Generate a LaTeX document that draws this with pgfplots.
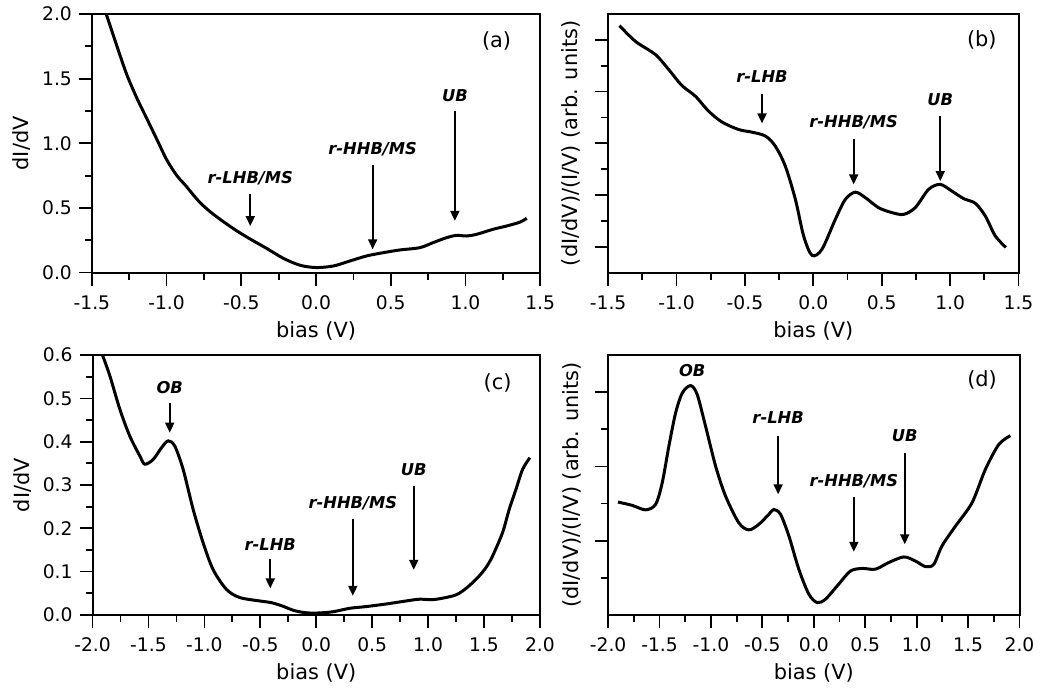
\documentclass[border=0pt]{standalone}
\usepackage{fontspec}
\setmainfont{DejaVu Sans}
\usepackage{pgfplots}
\pgfplotsset{compat=1.18}
\usetikzlibrary{arrows.meta}

% one pixel of the reference = 0.5bp
\pgfplotsset{
  panel/.style={
    scale only axis, anchor=south west,
    axis line style={line width=1bp},
    tick pos=left, tick align=outside,
    major tick length=6.5bp, minor tick length=3.5bp,
    every tick/.style={black, line width=0.9bp},
    tick label style={font=\fontsize{9.4}{11}\selectfont},
    xticklabel style={yshift=-1.5bp},
    label style={font=\fontsize{10.5}{12}\selectfont},
    xlabel={bias (V)},
    xlabel style={at={(axis description cs:0.5,0)}, anchor=center, yshift=-29bp},
    ylabel style={rotate=0, anchor=center},
  },
  curve/.style={black, line width=1.5bp, smooth, no marks},
}
\tikzset{
  ann/.style={font=\fontsize{8.2}{9}\selectfont\bfseries\itshape},
  arr/.style={-{Triangle[length=5bp,width=4.5bp]}, line width=0.9bp},
  tag/.style={font=\fontsize{10.5}{12}\selectfont},
}

\begin{document}
\begin{tikzpicture}
\path (0,0) rectangle (520.5bp,-344bp);

% (a)
\begin{axis}[panel, at={(46bp,-136.5bp)}, width=224.5bp, height=129.5bp,
  xmin=-1.5, xmax=1.5, ymin=0, ymax=2,
  xtick={-1.5,-1,-0.5,0,0.5,1,1.5}, xticklabels={-1.5,-1.0,-0.5,0.0,0.5,1.0,1.5},
  ytick={0,0.5,1,1.5,2}, yticklabels={0.0,0.5,1.0,1.5,2.0},
  minor x tick num=1, minor y tick num=1,
  ylabel={dI/dV}, ylabel style={at={(axis description cs:-0.156,0.5)}}]
\addplot[curve] coordinates {
 (-1.404,2.0) (-1.332,1.75) (-1.266,1.53) (-1.199,1.35) (-1.132,1.19)
 (-1.065,1.03) (-0.998,0.87) (-0.931,0.75) (-0.87,0.67) (-0.842,0.63) (-0.775,0.54)
 (-0.686,0.45) (-0.553,0.34) (-0.441,0.26) (-0.33,0.187) (-0.218,0.11)
 (-0.107,0.057) (0.0,0.039) (0.116,0.051) (0.227,0.09) (0.339,0.129)
 (0.45,0.154) (0.561,0.175) (0.695,0.193) (0.784,0.232) (0.873,0.27)
 (0.94,0.288) (1.007,0.283) (1.074,0.296) (1.185,0.335) (1.274,0.36)
 (1.364,0.39) (1.41,0.42)
};
\node[ann] at (axis cs:-0.44,0.728) {r-LHB/MS};
\draw[arr] (axis cs:-0.44,0.605) -- (axis cs:-0.44,0.36);
\node[ann] at (axis cs:0.379,0.952) {r-HHB/MS};
\draw[arr] (axis cs:0.379,0.829) -- (axis cs:0.379,0.18);
\node[ann] at (axis cs:0.929,1.372) {UB};
\draw[arr] (axis cs:0.929,1.248) -- (axis cs:0.929,0.4);
\node[tag] at (axis cs:1.208,1.79) {(a)};
\end{axis}

% (b)
\begin{axis}[panel, at={(304.5bp,-136.5bp)}, width=205.5bp, height=129.5bp,
  xmin=-1.5, xmax=1.5, ymin=0, ymax=10,
  xtick={-1.5,-1,-0.5,0,0.5,1,1.5}, xticklabels={-1.5,-1.0,-0.5,0.0,0.5,1.0,1.5},
  minor x tick num=1,
  ytick={1,3,5,7,9}, yticklabels={}, minor ytick={2,4,6,8},
  ylabel={(dI/dV)/(I/V) (arb. units)}, ylabel style={at={(axis description cs:-0.09,0.5)}}]
\addplot[curve] coordinates {
 (-1.417,9.55) (-1.30,8.94) (-1.154,8.43) (-1.057,7.85) (-0.96,7.23)
 (-0.862,6.82) (-0.765,6.24) (-0.667,5.82) (-0.545,5.53) (-0.448,5.43)
 (-0.35,5.28) (-0.278,4.89) (-0.205,4.12) (-0.131,2.83) (-0.071,1.42)
 (-0.01,0.67) (0.063,0.90) (0.161,2.06) (0.234,2.83) (0.307,3.11)
 (0.38,2.90) (0.477,2.51) (0.575,2.32) (0.66,2.25) (0.745,2.51)
 (0.843,3.22) (0.928,3.41) (1.013,3.15) (1.099,2.86) (1.184,2.68)
 (1.257,2.19) (1.33,1.42) (1.408,0.97)
};
\node[ann] at (axis cs:-0.375,7.59) {r-LHB};
\draw[arr] (axis cs:-0.375,6.91) -- (axis cs:-0.375,5.77);
\node[ann] at (axis cs:0.295,5.82) {r-HHB/MS};
\draw[arr] (axis cs:0.295,5.15) -- (axis cs:0.295,3.41);
\node[ann] at (axis cs:0.928,6.69) {UB};
\draw[arr] (axis cs:0.928,6.05) -- (axis cs:0.928,3.54);
\node[tag] at (axis cs:1.232,9.0) {(b)};
\end{axis}

% (c)
\begin{axis}[panel, at={(46.35bp,-307.85bp)}, width=224bp, height=130bp,
  xmin=-2, xmax=2, ymin=0, ymax=0.6,
  xtick={-2,-1.5,-1,-0.5,0,0.5,1,1.5,2},
  xticklabels={-2.0,-1.5,-1.0,-0.5,0.0,0.5,1.0,1.5,2.0},
  ytick={0,0.1,0.2,0.3,0.4,0.5,0.6}, yticklabels={0.0,0.1,0.2,0.3,0.4,0.5,0.6},
  minor x tick num=1, minor y tick num=1,
  ylabel={dI/dV}, ylabel style={at={(axis description cs:-0.156,0.5)}}]
\addplot[curve] coordinates {
 (-1.911,0.6) (-1.845,0.552) (-1.756,0.475) (-1.667,0.413) (-1.577,0.367)
 (-1.533,0.348) (-1.458,0.359) (-1.384,0.386) (-1.324,0.402) (-1.265,0.39)
 (-1.19,0.336) (-1.101,0.244) (-1.012,0.167) (-0.923,0.105) (-0.804,0.059)
 (-0.685,0.04) (-0.506,0.032) (-0.4,0.028) (-0.3,0.02) (-0.2,0.01) (-0.1,0.005) (0,0.004)
 (0.149,0.007) (0.298,0.015) (0.446,0.019) (0.625,0.025) (0.804,0.032)
 (0.923,0.036) (1.042,0.035) (1.161,0.04) (1.25,0.046) (1.309,0.055)
 (1.38,0.07) (1.458,0.09) (1.52,0.11) (1.577,0.136) (1.666,0.19)
 (1.726,0.244) (1.786,0.29) (1.845,0.336) (1.91,0.363)
};
\node[ann] at (axis cs:-1.31,0.526) {OB};
\draw[arr] (axis cs:-1.31,0.49) -- (axis cs:-1.31,0.421);
\node[ann] at (axis cs:-0.411,0.163) {r-LHB};
\draw[arr] (axis cs:-0.411,0.128) -- (axis cs:-0.411,0.061);
\node[ann] at (axis cs:0.327,0.259) {r-HHB/MS};
\draw[arr] (axis cs:0.327,0.222) -- (axis cs:0.327,0.044);
\node[ann] at (axis cs:0.872,0.336) {UB};
\draw[arr] (axis cs:0.872,0.298) -- (axis cs:0.872,0.104);
\node[tag] at (axis cs:1.622,0.536) {(c)};
\end{axis}

% (d)
\begin{axis}[panel, at={(304.5bp,-307.85bp)}, width=206bp, height=130bp,
  xmin=-2, xmax=2, ymin=0, ymax=7,
  xtick={-2,-1.5,-1,-0.5,0,0.5,1,1.5,2},
  xticklabels={-2.0,-1.5,-1.0,-0.5,0.0,0.5,1.0,1.5,2.0},
  minor x tick num=1,
  ytick={2,4,6}, yticklabels={}, minor ytick={1,3,5},
  ylabel={(dI/dV)/(I/V) (arb. units)}, ylabel style={at={(axis description cs:-0.087,0.5)}}]
\addplot[curve] coordinates {
 (-1.904,3.04) (-1.765,2.95) (-1.636,2.83) (-1.538,2.98) (-1.474,3.56)
 (-1.409,4.55) (-1.344,5.44) (-1.279,5.98) (-1.198,6.18) (-1.134,5.94)
 (-1.053,5.09) (-0.955,4.01) (-0.858,3.20) (-0.729,2.48) (-0.632,2.29)
 (-0.534,2.44) (-0.437,2.71) (-0.389,2.84) (-0.324,2.71) (-0.243,2.13)
 (-0.146,1.23) (-0.049,0.56) (0.032,0.33) (0.113,0.42) (0.243,0.83)
 (0.356,1.18) (0.47,1.25) (0.599,1.23) (0.729,1.41) (0.875,1.56)
 (0.988,1.45) (1.085,1.30) (1.166,1.36) (1.247,1.86) (1.377,2.39)
 (1.538,3.02) (1.668,3.92) (1.798,4.59) (1.911,4.83)
};
\node[ann] at (axis cs:-1.182,6.59) {OB};
\node[ann] at (axis cs:-0.347,5.31) {r-LHB};
\draw[arr] (axis cs:-0.347,4.82) -- (axis cs:-0.347,3.25);
\node[ann] at (axis cs:0.389,3.61) {r-HHB/MS};
\draw[arr] (axis cs:0.389,3.17) -- (axis cs:0.389,1.70);
\node[ann] at (axis cs:0.884,4.83) {UB};
\draw[arr] (axis cs:0.884,4.37) -- (axis cs:0.884,1.90);
\node[tag] at (axis cs:1.636,6.34) {(d)};
\end{axis}
\end{tikzpicture}
\end{document}
